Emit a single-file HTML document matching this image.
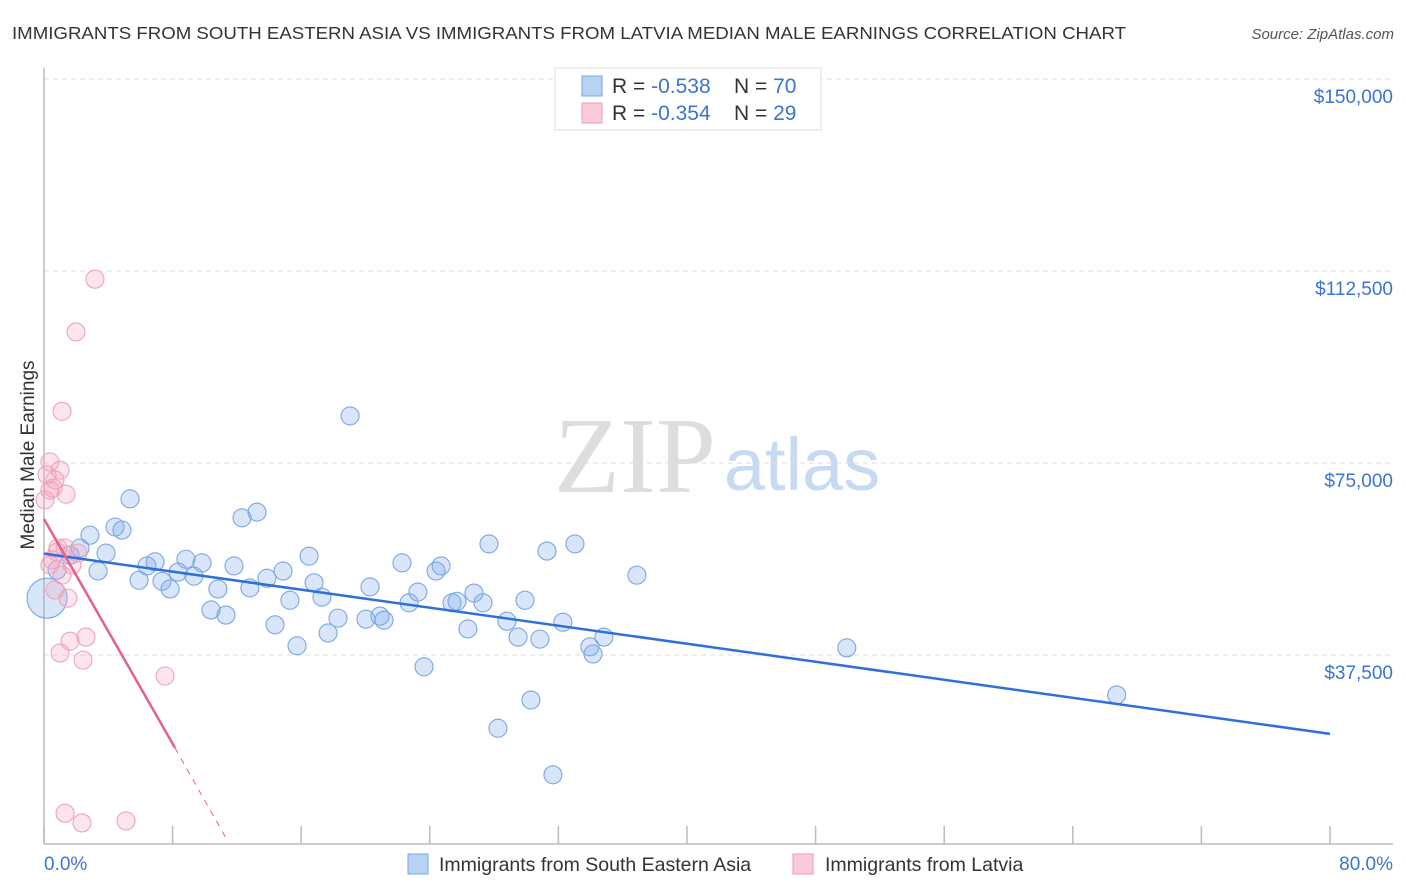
<!DOCTYPE html>
<html><head><meta charset="utf-8"><style>
body{margin:0;background:#fff;font-family:"Liberation Sans",sans-serif;}
svg{display:block}
</style></head><body>
<svg id="c" width="1406" height="892" viewBox="0 0 1406 892" xmlns="http://www.w3.org/2000/svg">
<text x="12" y="39" font-size="17.5" fill="#333" textLength="1114" lengthAdjust="spacingAndGlyphs">IMMIGRANTS FROM SOUTH EASTERN ASIA VS IMMIGRANTS FROM LATVIA MEDIAN MALE EARNINGS CORRELATION CHART</text>
<text x="1394" y="39" font-size="15" fill="#555" font-style="italic" text-anchor="end">Source: ZipAtlas.com</text>
<g>
<text x="635" y="492" font-size="108" fill="#ddd" font-family="Liberation Serif,serif" text-anchor="middle">ZIP</text>
<text x="802" y="490" font-size="74" fill="#c8daf2" text-anchor="middle">atlas</text>
</g>
<text transform="translate(34,455) rotate(-90)" font-size="19" fill="#333" text-anchor="middle">Median Male Earnings</text>
<g id="grid"></g><g id="pts"></g><g id="lines"></g>
<g>
<rect x="555" y="68" width="266" height="62" fill="#fff" stroke="#ddd"/>
<rect x="582" y="76" width="20" height="20" fill="#b8d2f4" stroke="#7aa6e4"/>
<rect x="582" y="103" width="20" height="20" fill="#fbcad8" stroke="#ee9ab4"/>
<text x="612" y="93" font-size="21" fill="#333">R = <tspan fill="#3b74d1">-0.538</tspan></text>
<text x="734" y="93" font-size="21" fill="#333">N = <tspan fill="#3b74d1">70</tspan></text>
<text x="612" y="120" font-size="21" fill="#333">R = <tspan fill="#3b74d1">-0.354</tspan></text>
<text x="734" y="120" font-size="21" fill="#333">N = <tspan fill="#3b74d1">29</tspan></text>
</g>
<g>
<rect x="408" y="854" width="20" height="20" fill="#b8d2f4" stroke="#7aa6e4"/>
<text x="439" y="871" font-size="19.5" fill="#333">Immigrants from South Eastern Asia</text>
<rect x="793" y="854" width="20" height="20" fill="#fbcad8" stroke="#ee9ab4"/>
<text x="825" y="871" font-size="19.5" fill="#333">Immigrants from Latvia</text>
</g>
</svg>
<script>
const yTicks=[37500,75000,112500,150000];
const yTickLabels=["$37,500","$75,000","$112,500","$150,000"];
const xTickVals=[0,8,16,24,32,40,48,56,64,72,80];
const blueX=[0.19,0.81,1.62,2.24,2.86,3.36,3.86,4.42,4.85,5.35,5.91,6.41,6.91,7.34,7.84,8.34,8.83,9.33,9.83,10.39,10.82,11.32,11.82,12.32,12.81,13.25,13.87,14.37,14.87,15.30,15.74,16.49,16.80,17.29,17.67,18.29,19.04,20.03,20.28,20.90,21.15,22.27,22.71,23.26,23.64,24.39,24.70,25.38,25.69,26.37,26.75,27.31,27.68,28.24,28.80,29.49,29.92,30.29,30.85,31.29,31.66,32.28,33.03,33.96,34.15,34.83,36.88,49.94,66.73];
const blueY=[48600,54100,57000,58400,60900,53900,57400,62500,61900,68000,52100,54900,55700,51900,50400,53700,56200,52900,55500,46300,50400,45300,54900,64300,50600,65400,52500,43400,53900,48200,39300,56800,51600,48800,41800,44700,84200,44500,50800,45100,44300,55500,47700,49800,35200,53900,54900,47700,48000,42600,49600,47700,59200,23200,44100,41000,48200,28700,40600,57800,14100,43900,59200,39100,37700,41000,53100,38900,29700];
const pinkX=[0.19,0.37,0.68,0.06,1.00,0.37,1.37,1.12,1.99,3.17,0.50,0.81,1.12,1.31,1.74,2.11,0.68,1.49,1.00,1.62,2.43,2.61,7.53,1.31,2.36,5.10,0.37,0.87,0.56];
const pinkY=[72700,75200,71700,67800,73600,69700,68900,85100,100600,110900,56100,57600,53100,58400,55100,57400,50200,48600,37900,40200,36500,41000,33400,6600,4700,5100,55100,58400,70100];
const blueTrend=[[0,57300],[80,22100]];
const pinkTrend=[[0,64060],[8.15,19350]];
const pinkDash=[[8.15,19350],[11.4,1300]];
const NS="http://www.w3.org/2000/svg";
const X=p=>44+p/80*1286;
const Y=v=>847-v/37500*192;
function mk(t,a,parent){const e=document.createElementNS(NS,t);for(const k in a)e.setAttribute(k,a[k]);parent.appendChild(e);return e;}
const grid=document.getElementById('grid');
yTicks.forEach((v,i)=>{
 const l=mk('line',{x1:44,x2:1393,y1:Y(v),y2:Y(v),stroke:'#ddd','stroke-dasharray':'5,4'},grid);
 
 
 const t=mk('text',{x:1393,y:Y(v)+24,'font-size':19,fill:'#3b74d1','text-anchor':'end'},grid);
 t.textContent=yTickLabels[i];
 
 
});
const ax=mk('line',{x1:44,x2:44,y1:68,y2:844,stroke:'#bbb','stroke-width':1.5},grid);


const bx=mk('line',{x1:44,x2:1393,y1:844,y2:844,stroke:'#bbb','stroke-width':1.5},grid);


xTickVals.forEach(v=>{const t=mk('line',{x1:X(v),x2:X(v),y1:826,y2:844,stroke:'#bbb','stroke-width':1.5},grid);
 
 });
const xl0=mk('text',{x:44,y:870,'font-size':19,fill:'#3b74d1'},grid);xl0.textContent=xTickVals[0].toFixed(1)+'%';


const xl1=mk('text',{x:1393,y:870,'font-size':19,fill:'#3b74d1','text-anchor':'end'},grid);xl1.textContent=xTickVals[xTickVals.length-1].toFixed(1)+'%';


const pts=document.getElementById('pts');
blueX.forEach((x,i)=>{const c=mk('circle',{cx:X(x),cy:Y(blueY[i]),r:i===0?20:9,fill:'rgba(130,172,238,0.3)',stroke:'#7aa6e4','stroke-width':1.1},pts);
 
 });
pinkX.forEach((x,i)=>{const c=mk('circle',{cx:X(x),cy:Y(pinkY[i]),r:9,fill:'rgba(245,160,185,0.28)',stroke:'#efa3bb','stroke-width':1.1},pts);
 
 });
const lines=document.getElementById('lines');
const bl=mk('line',{x1:X(blueTrend[0][0]),y1:Y(blueTrend[0][1]),x2:X(blueTrend[1][0]),y2:Y(blueTrend[1][1]),stroke:'#2f6fd8','stroke-width':2.5},lines);


const pl=mk('line',{x1:X(pinkTrend[0][0]),y1:Y(pinkTrend[0][1]),x2:X(pinkTrend[1][0]),y2:Y(pinkTrend[1][1]),stroke:'#e4618c','stroke-width':2.5},lines);


const pd=mk('line',{x1:X(pinkDash[0][0]),y1:Y(pinkDash[0][1]),x2:X(pinkDash[1][0]),y2:Y(pinkDash[1][1]),stroke:'#e4618c','stroke-width':1,'stroke-dasharray':'6,6'},lines);


</script>
</body></html>
